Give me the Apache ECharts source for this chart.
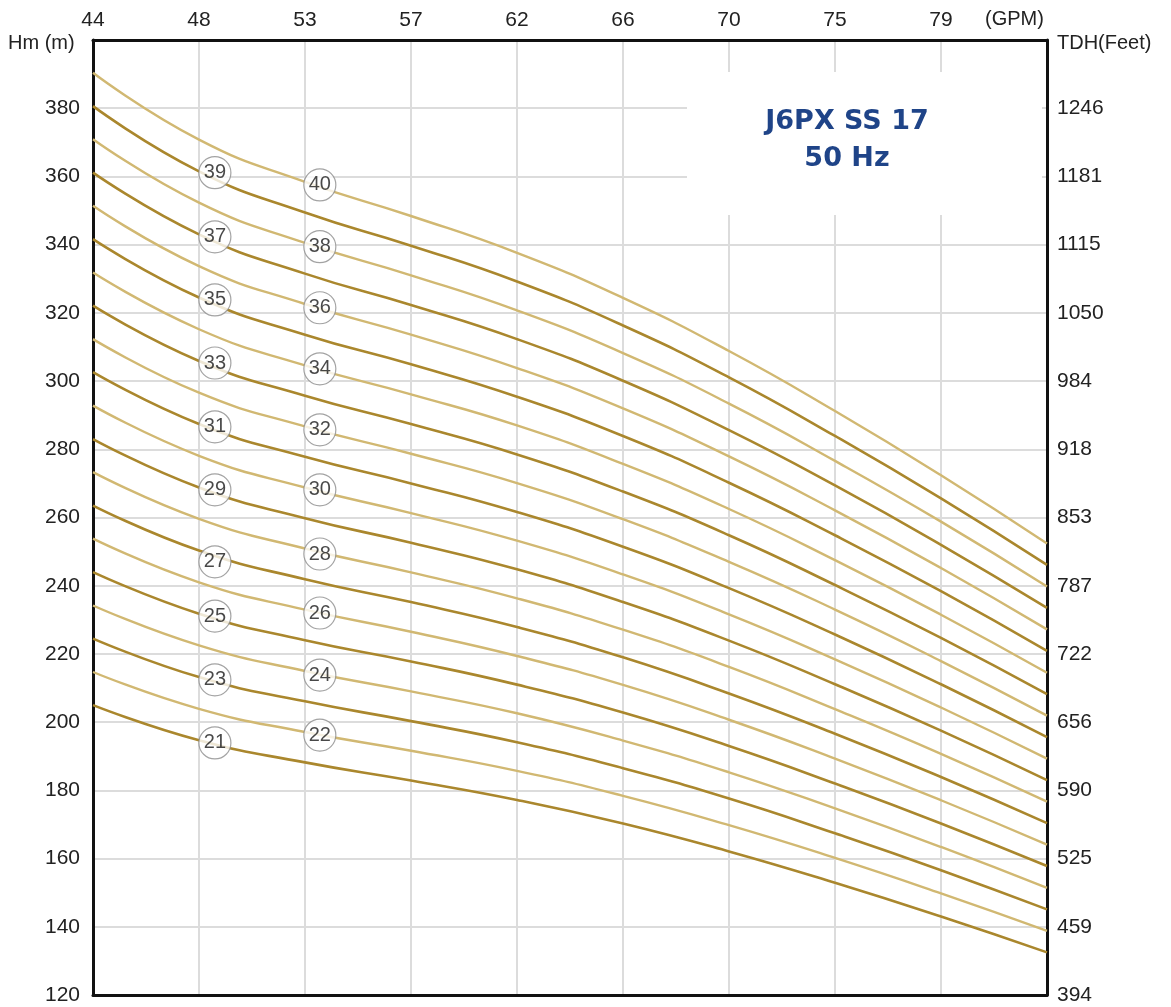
<!DOCTYPE html>
<html>
<head>
<meta charset="utf-8">
<script src="https://cdn.jsdelivr.net/npm/echarts@6/dist/echarts.min.js"></script>
<style>
html,body{margin:0;padding:0;background:#fff;}
#chart{width:1171px;height:1007px;}
</style>
</head>
<body>
<div id="chart"></div>
<script>
// Top axis flow labels (GPM), one per gridline index
const gpmLabels = ['44', '48', '53', '57', '62', '66', '70', '75', '79'];
const flowSteps = [0, 1, 2, 3, 4, 5, 6, 7, 8, 9];
// Right axis labels (feet) for 120..380 m
const tdhLabels = ['394', '459', '525', '590', '656', '722', '787', '853', '918', '984', '1050', '1115', '1181', '1246'];

// Head curves (m) for each number of stages, read at each flow step
const stages = [21, 22, 23, 24, 25, 26, 27, 28, 29, 30, 31, 32, 33, 34, 35, 36, 37, 38, 39, 40];
const head21 = [205.0, 194.7, 188.2, 182.9, 177.2, 170.3, 162.1, 152.9, 143.0, 132.5];
const head22 = [214.7, 203.9, 197.1, 191.6, 185.7, 178.4, 169.8, 160.2, 149.8, 138.8];
const head23 = [224.5, 213.2, 206.1, 200.3, 194.1, 186.5, 177.6, 167.4, 156.6, 145.1];
const head24 = [234.2, 222.5, 215.0, 209.0, 202.6, 194.6, 185.3, 174.7, 163.4, 151.4];
const head25 = [244.0, 231.8, 224.0, 217.8, 211.0, 202.8, 193.0, 182.0, 170.3, 157.8];
const head26 = [253.8, 241.0, 233.0, 226.5, 219.4, 210.9, 200.7, 189.3, 177.1, 164.1];
const head27 = [263.5, 250.3, 241.9, 235.2, 227.9, 219.0, 208.4, 196.6, 183.9, 170.4];
const head28 = [273.3, 259.6, 250.9, 243.9, 236.3, 227.1, 216.2, 203.8, 190.7, 176.7];
const head29 = [283.0, 268.8, 259.8, 252.6, 244.8, 235.2, 223.9, 211.1, 197.5, 183.0];
const head30 = [292.8, 278.1, 268.8, 261.3, 253.2, 243.3, 231.6, 218.4, 204.3, 189.3];
const head31 = [302.6, 287.4, 277.8, 270.0, 261.6, 251.4, 239.3, 225.7, 211.1, 195.6];
const head32 = [312.3, 296.6, 286.7, 278.7, 270.1, 259.5, 247.0, 233.0, 217.9, 201.9];
const head33 = [322.1, 305.9, 295.7, 287.4, 278.5, 267.6, 254.8, 240.2, 224.7, 208.2];
const head34 = [331.8, 315.2, 304.6, 296.1, 287.0, 275.7, 262.5, 247.5, 231.5, 214.5];
const head35 = [341.6, 324.5, 313.6, 304.9, 295.4, 283.9, 270.2, 254.8, 238.4, 220.9];
const head36 = [351.4, 333.7, 322.6, 313.6, 303.8, 292.0, 277.9, 262.1, 245.2, 227.2];
const head37 = [361.1, 343.0, 331.5, 322.3, 312.3, 300.1, 285.6, 269.4, 252.0, 233.5];
const head38 = [370.9, 352.3, 340.5, 331.0, 320.7, 308.2, 293.4, 276.6, 258.8, 239.8];
const head39 = [380.6, 361.5, 349.4, 339.7, 329.2, 316.3, 301.1, 283.9, 265.6, 246.1];
const head40 = [390.4, 370.8, 358.4, 348.4, 337.6, 324.4, 308.8, 291.2, 272.4, 252.4];
const heads = [head21, head22, head23, head24, head25, head26, head27, head28, head29, head30,
               head31, head32, head33, head34, head35, head36, head37, head38, head39, head40];

// Stage-number bubbles placed on the curves
const bubbleText = ['21', '22', '23', '24', '25', '26', '27', '28', '29', '30', '31', '32', '33', '34', '35', '36', '37', '38', '39', '40'];
const bubbleX = [1.15, 2.14, 1.15, 2.14, 1.15, 2.14, 1.15, 2.14, 1.15, 2.14, 1.15, 2.14, 1.15, 2.14, 1.15, 2.14, 1.15, 2.14, 1.15, 2.14];
const bubbleY = [193.9, 196.2, 212.4, 213.8, 231.1, 232.0, 247.0, 249.3, 268.1, 268.1, 286.6, 285.7, 305.3, 303.6, 323.8, 321.5, 342.3, 339.4, 361.1, 357.5];

const DARK = '#aa872d';
const LIGHT = '#d1b872';
const FONT = 'Liberation Sans, Arial, sans-serif';
const FRAME = { show: true, onZero: false, lineStyle: { color: '#111111', width: 3 } };

const series = stages.map((s, k) => ({
  type: 'line',
  name: String(s),
  data: flowSteps.map((x, i) => [x, heads[k][i]]),
  symbol: 'none',
  smooth: 0.5,
  z: 3,
  silent: true,
  lineStyle: { color: s % 2 === 1 ? DARK : LIGHT, width: s % 2 === 1 ? 2.6 : 2.4 }
}));

series.push({
  type: 'scatter',
  data: bubbleText.map((t, i) => ({ name: t, value: [bubbleX[i], bubbleY[i]] })),
  symbol: 'circle',
  symbolSize: 32,
  z: 6,
  itemStyle: { color: '#ffffff', borderColor: '#8c8c8c', borderWidth: 1.2 },
  label: { show: true, position: 'inside', formatter: p => p.name, color: '#1a1a1a', fontSize: 20, fontFamily: FONT }
});

const chart = echarts.init(document.getElementById('chart'), null, { renderer: 'canvas' });
chart.setOption({
  animation: false,
  backgroundColor: '#ffffff',
  grid: { left: 93, right: 124, top: 40, bottom: 12 },
  xAxis: [
    {
      type: 'value', position: 'top', min: 0, max: 9, interval: 1,
      axisLine: FRAME, axisTick: { show: false },
      axisLabel: { color: '#222', fontSize: 21, fontFamily: FONT, margin: 9,
        formatter: v => gpmLabels[v] !== undefined ? gpmLabels[v] : '' },
      splitLine: { show: true, lineStyle: { color: '#dcdcdc', width: 2 } }
    },
    {
      type: 'value', position: 'bottom', min: 0, max: 9, interval: 1,
      axisLine: FRAME, axisTick: { show: false }, axisLabel: { show: false }, splitLine: { show: false }
    }
  ],
  yAxis: [
    {
      type: 'value', position: 'left', min: 120, max: 400, interval: 20,
      axisLine: FRAME, axisTick: { show: false },
      axisLabel: { color: '#222', fontSize: 21, fontFamily: FONT, margin: 13,
        formatter: v => v >= 400 ? '' : String(v) },
      splitLine: { show: true, lineStyle: { color: '#dcdcdc', width: 2 } }
    },
    {
      type: 'value', position: 'right', min: 120, max: 400, interval: 20,
      axisLine: FRAME, axisTick: { show: false },
      axisLabel: { color: '#222', fontSize: 21, fontFamily: FONT, margin: 10,
        formatter: v => { const t = tdhLabels[Math.round((v - 120) / 20)]; return t !== undefined ? t : ''; } },
      splitLine: { show: false }
    }
  ],
  graphic: [
    { type: 'rect', shape: { x: 687, y: 72, width: 355, height: 143 }, style: { fill: '#ffffff' }, z: 1, silent: true },
    { type: 'text', x: 847, y: 122, style: { text: 'J6PX SS 17', fill: '#1f4488', font: 'bold 27px DejaVu Sans, sans-serif', textAlign: 'center', textVerticalAlign: 'middle' }, z: 2 },
    { type: 'text', x: 847, y: 159, style: { text: '50 Hz', fill: '#1f4488', font: 'bold 27px DejaVu Sans, sans-serif', textAlign: 'center', textVerticalAlign: 'middle' }, z: 2 },
    { type: 'text', x: 8, y: 43, style: { text: 'Hm (m)', fill: '#222', font: '20px Liberation Sans, Arial, sans-serif', textVerticalAlign: 'middle' }, z: 2 },
    { type: 'text', x: 1057, y: 43, style: { text: 'TDH(Feet)', fill: '#222', font: '20px Liberation Sans, Arial, sans-serif', textVerticalAlign: 'middle' }, z: 2 },
    { type: 'text', x: 985, y: 19, style: { text: '(GPM)', fill: '#222', font: '20px Liberation Sans, Arial, sans-serif', textVerticalAlign: 'middle' }, z: 2 }
  ],
  series: series
});
</script>
</body>
</html>
